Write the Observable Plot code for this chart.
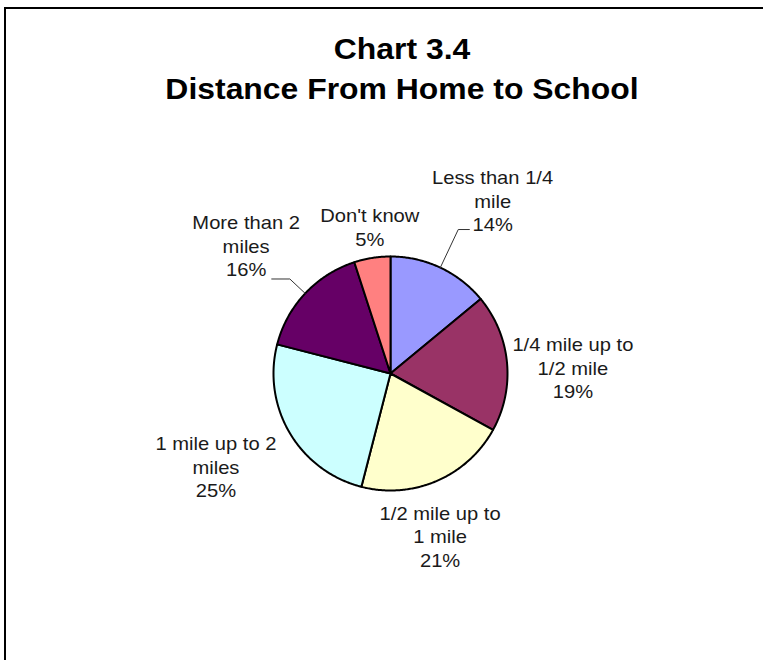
<!DOCTYPE html>
<html>
<head>
<meta charset="utf-8">
<script src="https://cdn.jsdelivr.net/npm/d3@7"></script>
<script src="https://cdn.jsdelivr.net/npm/@observablehq/plot@0.6"></script>
<style>
  html, body { margin: 0; padding: 0; background: #fff; }
  body { width: 763px; height: 660px; position: relative; overflow: hidden; font-family: "Liberation Sans", Arial, sans-serif; }
  #frame { position: absolute; left: 4px; top: 7px; right: -20px; bottom: -20px; border: 2px solid #000; }
  #title { position: absolute; left: 0; width: 804px; top: 29px; text-align: center; font-weight: bold; font-size: 29px; line-height: 40px; color: #000; transform: scaleX(1.1); transform-origin: 402px 0; }
  #chart { position: absolute; left: 0; top: 0; }
</style>
</head>
<body>
<div id="frame"></div>
<div id="chart"></div>
<div id="title">Chart 3.4<br>Distance From Home to School</div>
<script>
// ---- data ----
const categories = ["Less than 1/4 mile", "1/4 mile up to 1/2 mile", "1/2 mile up to 1 mile", "1 mile up to 2 miles", "More than 2 miles", "Don't know"];
const labelText = ["Less than 1/4\nmile", "1/4 mile up to\n1/2 mile", "1/2 mile up to\n1 mile", "1 mile up to 2\nmiles", "More than 2\nmiles", "Don't know"];
const percents = [14, 19, 21, 25, 16, 5];
const colors = ["#9999FF", "#993366", "#FFFFCC", "#CCFFFF", "#660066", "#FF8080"];

// ---- layout (label placement in polar form: radius factor, angle in degrees clockwise from top) ----
const labelPolar = [[1.72, 30.5], [1.56, 88], [1.45, 163], [1.69, 242], [1.65, 311.6], [1.27, 352]];
const leaderSlices = {0: {bend: 1.36, tail: 0.095}, 4: {bend: 1.18, tail: -0.155}};

const pie = d3.pie().sort(null).value(d => d)(percents);
const toXY = (a, r) => [Math.sin(a) * r, Math.cos(a) * r];

// slice polygons
const slicePts = [];
pie.forEach((p, i) => {
  slicePts.push({cat: categories[i], x: 0, y: 0});
  const n = Math.max(2, Math.ceil((p.endAngle - p.startAngle) / 0.01));
  for (let k = 0; k <= n; k++) {
    const a = p.startAngle + (p.endAngle - p.startAngle) * k / n;
    const [x, y] = toXY(a, 1);
    slicePts.push({cat: categories[i], x, y});
  }
  slicePts.push({cat: categories[i], x: 0, y: 0});
});

// labels
const labels = pie.map((p, i) => {
  const [rf, deg] = labelPolar[i];
  const [x, y] = toXY(deg * Math.PI / 180, rf);
  return {x, y, text: labelText[i] + "\n" + percents[i] + "%"};
});

// leader lines
const leaders = [];
Object.entries(leaderSlices).forEach(([i, o]) => {
  const p = pie[+i];
  const mid = (p.startAngle + p.endAngle) / 2;
  const [x0, y0] = toXY(mid, 1.0);
  const [x1, y1] = toXY(mid, o.bend);
  leaders.push({id: i, x: x0, y: y0}, {id: i, x: x1, y: y1}, {id: i, x: x1 + o.tail, y: y1});
});

const W = 763, H = 660, cx = 390, cy = 373, R = 117;
const chart = Plot.plot({
  width: W,
  height: H,
  marginLeft: cx - R,
  marginRight: W - (cx + R),
  marginTop: cy - R,
  marginBottom: H - (cy + R),
  x: {domain: [-1, 1], axis: null},
  y: {domain: [-1, 1], axis: null},
  color: {domain: categories, range: colors},
  style: {fontFamily: "'Liberation Sans', Arial, sans-serif", background: "transparent", overflow: "visible"},
  marks: [
    Plot.line(slicePts, {x: "x", y: "y", z: "cat", fill: "cat", stroke: "#000", strokeWidth: 2, strokeLinejoin: "round", curve: "linear"}),
    Plot.line(leaders, {x: "x", y: "y", z: "id", stroke: "#333", strokeWidth: 1}),
    Plot.text(labels, {x: "x", y: "y", text: "text", fontSize: 18, lineHeight: 1.3, fill: "#1a1a1a", textAnchor: "middle", lineAnchor: "middle"})
  ]
});
// widen label glyphs horizontally to match the reference's stretched type
d3.select(chart).selectAll("text").each(function() {
  const t = this.getAttribute("transform");
  const x = this.getAttribute("x"), y = this.getAttribute("y");
  if (t && t.startsWith("translate")) {
    this.setAttribute("transform", t + " scale(1.12,1)");
  } else if (x != null) {
    this.setAttribute("transform", `translate(${x},${y || 0}) scale(1.12,1) translate(${-x},${-(y || 0)})`);
  }
});
document.getElementById("chart").appendChild(chart);
</script>
</body>
</html>
